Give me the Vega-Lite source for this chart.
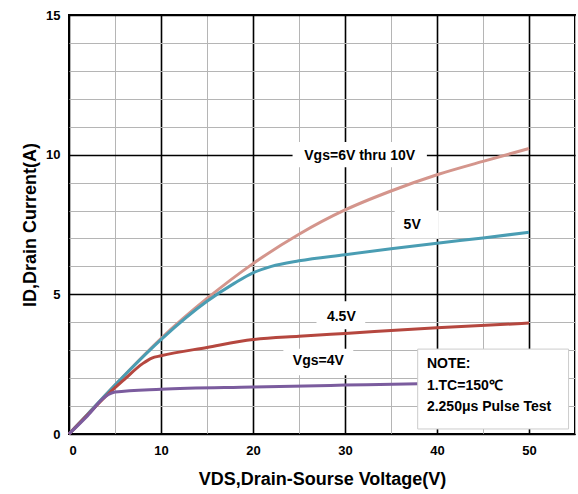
{
  "$schema": "https://vega.github.io/schema/vega-lite/v6.json",
  "width": 506,
  "height": 419,
  "autosize": {"type": "none"},
  "padding": {"left": 69, "top": 15, "right": 3, "bottom": 60},
  "background": "white",
  "config": {
    "view": {"stroke": "black", "strokeWidth": 2},
    "font": "Liberation Sans"
  },
  "resolve": {"axis": {"y": "independent"}},
  "datasets": {
    "curves": [
      {"s": "6V", "vds": 0, "id": 0}, {"s": "6V", "vds": 2, "id": 0.7}, {"s": "6V", "vds": 5, "id": 1.75},
      {"s": "6V", "vds": 10, "id": 3.42}, {"s": "6V", "vds": 15, "id": 4.85}, {"s": "6V", "vds": 20, "id": 6.1},
      {"s": "6V", "vds": 25, "id": 7.15}, {"s": "6V", "vds": 30, "id": 8.02}, {"s": "6V", "vds": 35, "id": 8.7},
      {"s": "6V", "vds": 40, "id": 9.28}, {"s": "6V", "vds": 45, "id": 9.76}, {"s": "6V", "vds": 50, "id": 10.22},
      {"s": "5V", "vds": 0, "id": 0}, {"s": "5V", "vds": 2, "id": 0.7}, {"s": "5V", "vds": 5, "id": 1.75},
      {"s": "5V", "vds": 10, "id": 3.38}, {"s": "5V", "vds": 15, "id": 4.75}, {"s": "5V", "vds": 18, "id": 5.4},
      {"s": "5V", "vds": 20, "id": 5.77}, {"s": "5V", "vds": 22, "id": 6.0}, {"s": "5V", "vds": 25, "id": 6.2},
      {"s": "5V", "vds": 30, "id": 6.42}, {"s": "5V", "vds": 35, "id": 6.63}, {"s": "5V", "vds": 40, "id": 6.83},
      {"s": "5V", "vds": 45, "id": 7.02}, {"s": "5V", "vds": 50, "id": 7.22},
      {"s": "4.5V", "vds": 0, "id": 0}, {"s": "4.5V", "vds": 2, "id": 0.68}, {"s": "4.5V", "vds": 4, "id": 1.35},
      {"s": "4.5V", "vds": 6, "id": 1.95}, {"s": "4.5V", "vds": 8, "id": 2.52}, {"s": "4.5V", "vds": 9, "id": 2.72},
      {"s": "4.5V", "vds": 10, "id": 2.8}, {"s": "4.5V", "vds": 15, "id": 3.1}, {"s": "4.5V", "vds": 20, "id": 3.38},
      {"s": "4.5V", "vds": 25, "id": 3.5}, {"s": "4.5V", "vds": 30, "id": 3.6}, {"s": "4.5V", "vds": 40, "id": 3.8},
      {"s": "4.5V", "vds": 50, "id": 3.97},
      {"s": "4V", "vds": 0, "id": 0}, {"s": "4V", "vds": 2, "id": 0.65}, {"s": "4V", "vds": 4, "id": 1.35},
      {"s": "4V", "vds": 5, "id": 1.5}, {"s": "4V", "vds": 10, "id": 1.6}, {"s": "4V", "vds": 20, "id": 1.68},
      {"s": "4V", "vds": 30, "id": 1.75}, {"s": "4V", "vds": 38, "id": 1.8}, {"s": "4V", "vds": 50, "id": 1.85}
    ],
    "boxes": [
      {"x1": 24.3, "x2": 38.9, "y1": 9.55, "y2": 10.45},
      {"x1": 35.4, "x2": 40.2, "y1": 7.0, "y2": 8.0},
      {"x1": 26.9, "x2": 32.2, "y1": 3.75, "y2": 4.75},
      {"x1": 23.3, "x2": 30.9, "y1": 2.1, "y2": 3.05}
    ],
    "labels": [
      {"t": "Vgs=6V thru 10V", "x": 31.6, "y": 9.95},
      {"t": "5V", "x": 37.3, "y": 7.5},
      {"t": "4.5V", "x": 29.6, "y": 4.2},
      {"t": "Vgs=4V", "x": 27.1, "y": 2.6}
    ],
    "note": [{"x1": 37.9, "x2": 54.3, "y1": 0.18, "y2": 3.04}],
    "notetext": [
      {"t": "NOTE:", "x": 38.9, "y": 2.5},
      {"t": "1.TC=150℃", "x": 38.9, "y": 1.72},
      {"t": "2.250μs Pulse Test", "x": 38.9, "y": 0.97}
    ]
  },
  "layer": [
    {
      "data": {"name": "boxes"},
      "mark": {"type": "rect", "fill": "white", "opacity": 0},
      "encoding": {
        "x": {"field": "x1", "type": "quantitative", "scale": {"domain": [0, 55], "nice": false}},
        "y": {
          "field": "y1", "type": "quantitative",
          "scale": {"domain": [0, 15], "nice": false},
          "axis": {
            "orient": "left",
            "values": [1, 2, 3, 4, 6, 7, 8, 9, 11, 12, 13, 14],
            "labels": false, "ticks": false, "domain": false, "title": null,
            "grid": true, "gridColor": "#b5b5b5", "gridWidth": 1, "gridOpacity": 1
          }
        }
      }
    },
    {
      "data": {"name": "curves"},
      "mark": {"type": "line", "strokeWidth": 3, "interpolate": "monotone"},
      "encoding": {
        "x": {
          "field": "vds", "type": "quantitative",
          "scale": {"domain": [0, 55], "nice": false},
          "axis": {
            "values": [0, 5, 10, 15, 20, 25, 30, 35, 40, 45, 50, 55],
            "labelExpr": "datum.value % 10 === 0 && datum.value < 55 ? datum.label : ''",
            "labelOverlap": false,
            "title": "VDS,Drain-Sourse Voltage(V)",
            "titleFontSize": 18, "titleFontWeight": "bold", "titleColor": "black", "titlePadding": 13,
            "labelFontSize": 13, "labelFontWeight": "bold", "labelColor": "black", "labelPadding": 10,
            "ticks": false, "domain": false,
            "grid": true,
            "gridColor": {"condition": {"test": "datum.value % 10 === 0", "value": "black"}, "value": "#b5b5b5"},
            "gridWidth": {"condition": {"test": "datum.value % 10 === 0", "value": 1.6}, "value": 1},
            "gridOpacity": 1
          }
        },
        "y": {
          "field": "id", "type": "quantitative",
          "scale": {"domain": [0, 15], "nice": false},
          "axis": {
            "orient": "left",
            "values": [0, 5, 10, 15],
            "labelOverlap": false,
            "labelFlush": false,
            "title": "ID,Drain Current(A)",
            "titleFontSize": 18, "titleFontWeight": "bold", "titleColor": "black", "titlePadding": 6,
            "labelFontSize": 13, "labelFontWeight": "bold", "labelColor": "black", "labelPadding": 9,
            "ticks": false, "domain": false,
            "grid": true, "gridColor": "black", "gridWidth": 1.6, "gridOpacity": 1
          }
        },
        "color": {
          "field": "s", "type": "nominal",
          "scale": {"domain": ["6V", "5V", "4.5V", "4V"], "range": ["#d4958c", "#4a9db3", "#b5473f", "#7b5c9e"]},
          "legend": null
        }
      }
    },
    {
      "data": {"name": "boxes"},
      "mark": {"type": "rect", "fill": "white"},
      "encoding": {
        "x": {"field": "x1", "type": "quantitative"},
        "x2": {"field": "x2"},
        "y": {"field": "y1", "type": "quantitative", "axis": null},
        "y2": {"field": "y2"}
      }
    },
    {
      "data": {"name": "labels"},
      "mark": {"type": "text", "fontSize": 14, "fontWeight": "bold", "color": "black", "align": "center", "baseline": "middle"},
      "encoding": {
        "x": {"field": "x", "type": "quantitative"},
        "y": {"field": "y", "type": "quantitative", "axis": null},
        "text": {"field": "t"}
      }
    },
    {
      "data": {"name": "note"},
      "mark": {"type": "rect", "fill": "white", "stroke": "#cccccc", "strokeWidth": 1},
      "encoding": {
        "x": {"field": "x1", "type": "quantitative"},
        "x2": {"field": "x2"},
        "y": {"field": "y1", "type": "quantitative", "axis": null},
        "y2": {"field": "y2"}
      }
    },
    {
      "data": {"name": "notetext"},
      "mark": {"type": "text", "fontSize": 14, "fontWeight": "bold", "color": "black", "align": "left", "baseline": "middle"},
      "encoding": {
        "x": {"field": "x", "type": "quantitative"},
        "y": {"field": "y", "type": "quantitative", "axis": null},
        "text": {"field": "t"}
      }
    }
  ]
}
